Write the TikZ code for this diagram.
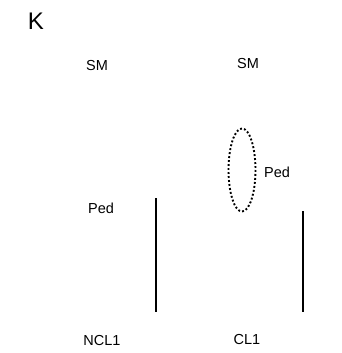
\documentclass[tikz,border=0pt]{standalone}
\usepackage{fontspec}
\setmainfont{Liberation Sans}
\usetikzlibrary{positioning}
\tikzset{lbl/.style={inner sep=0pt, anchor=base, font=\fontsize{14.5}{17}\selectfont},
         bar/.style={line width=2pt},
         loop/.style={line width=1.9pt, dash pattern=on 1.9pt off 2.1pt}}

\begin{document}
\begin{tikzpicture}[x=1pt,y=-1pt]
          \useasboundingbox (0,0) rectangle (341,353);
          \node [lbl, font=\fontsize{24}{28}\selectfont] (k) at (36,30) {K};
          \node [lbl] (smL) at (97,70.5) {SM};
          \node [lbl] (smR) at (248,68.5) {SM};
          \node [lbl] (pedL) at (101,213) {Ped};
          \node [lbl] (pedR) at (277,177) {Ped};
          \node [lbl] (ncl) at (102,345) {NCL1};
          \node [lbl] (cl) at (247,344) {CL1};
          \draw [bar] (156,198)--(156,312);
          \draw [bar] (303,211)--(303,312);
          \draw [loop] (242,170) ellipse (13.5 and 41.5);
        \end{tikzpicture}
\end{document}
